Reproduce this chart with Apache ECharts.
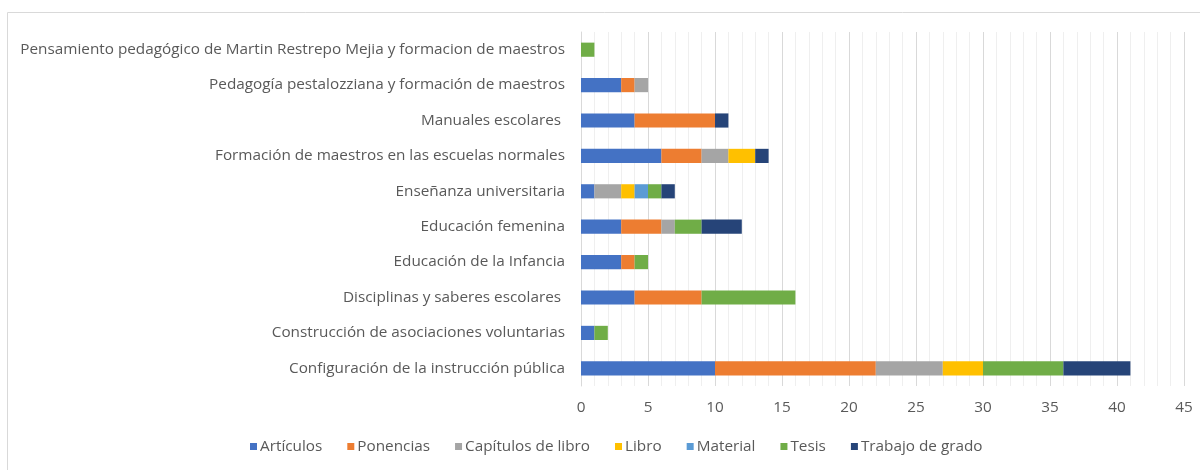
<!DOCTYPE html>
<html>
<head>
<meta charset="utf-8">
<script src="https://cdn.jsdelivr.net/npm/echarts@6/dist/echarts.min.js"></script>
<style>
  html, body { margin: 0; padding: 0; background: #fff; }
  #chart { width: 1200px; height: 470px; }
</style>
</head>
<body>
<div id="chart"></div>
<script>
// categories, bottom to top
const categories = [
  'Configuración de la instrucción pública',
  'Construcción de asociaciones voluntarias',
  'Disciplinas y saberes escolares ',
  'Educación de la Infancia',
  'Educación femenina',
  'Enseñanza universitaria',
  'Formación de maestros en las escuelas normales',
  'Manuales escolares ',
  'Pedagogía pestalozziana y formación de maestros',
  'Pensamiento pedagógico de Martin Restrepo Mejia y formacion de maestros'
];

const articulos  = [10, 1, 4, 3, 3, 1, 6, 4, 3, 0];
const ponencias  = [12, 0, 5, 1, 3, 0, 3, 6, 1, 0];
const capitulos  = [5, 0, 0, 0, 1, 2, 2, 0, 1, 0];
const libro      = [3, 0, 0, 0, 0, 1, 2, 0, 0, 0];
const material   = [0, 0, 0, 0, 0, 1, 0, 0, 0, 0];
const tesis      = [6, 1, 7, 1, 2, 1, 0, 0, 0, 1];
const trabajo    = [5, 0, 0, 0, 3, 1, 1, 1, 0, 0];

const seriesNames = ['Artículos', 'Ponencias', 'Capítulos de libro', 'Libro', 'Material', 'Tesis', 'Trabajo de grado'];
const seriesData = [articulos, ponencias, capitulos, libro, material, tesis, trabajo];
const colors = ['#4472c4', '#ed7d31', '#a5a5a5', '#ffc000', '#5b9bd5', '#70ad47', '#264478'];

const textColor = '#595959';
const fontFamily = '"Open Sans", Lato, sans-serif';
const fontSize = 15.3;

const chart = echarts.init(document.getElementById('chart'));

chart.setOption({
  animation: false,
  color: colors,
  textStyle: { fontFamily: fontFamily },
  graphic: [{
    type: 'rect',
    shape: { x: 7.5, y: 12.5, width: 1200, height: 470 },
    style: { fill: 'none', stroke: '#d9d9d9', lineWidth: 1 },
    silent: true
  }],
  grid: { left: 581, right: 16, top: 32, bottom: 84 },
  legend: {
    top: 434,
    left: 245,
    itemWidth: 7,
    itemHeight: 7,
    itemGap: 25,
    icon: 'rect',
    textStyle: { color: textColor, fontSize: fontSize, fontFamily: fontFamily, padding: [0, 0, 0, -2] },
    data: seriesNames
  },
  xAxis: {
    type: 'value',
    min: 0,
    max: 45,
    interval: 5,
    axisLine: { show: false },
    axisTick: { show: false },
    axisLabel: { color: textColor, fontSize: fontSize, margin: 14 },
    splitLine: { lineStyle: { color: '#d9d9d9' } },
    minorTick: { show: false, splitNumber: 5 },
    minorSplitLine: { show: true, lineStyle: { color: '#efefef' } }
  },
  yAxis: {
    type: 'category',
    data: categories,
    axisLine: { show: true, lineStyle: { color: '#d9d9d9' } },
    axisTick: { show: false },
    axisLabel: { color: textColor, fontSize: fontSize, margin: 16 }
  },
  series: seriesNames.map(function (name, i) {
    return {
      name: name,
      type: 'bar',
      stack: 'total',
      barCategoryGap: '60%',
      data: seriesData[i].map(function (v) { return v === 0 ? null : v; })
    };
  })
});
</script>
</body>
</html>
